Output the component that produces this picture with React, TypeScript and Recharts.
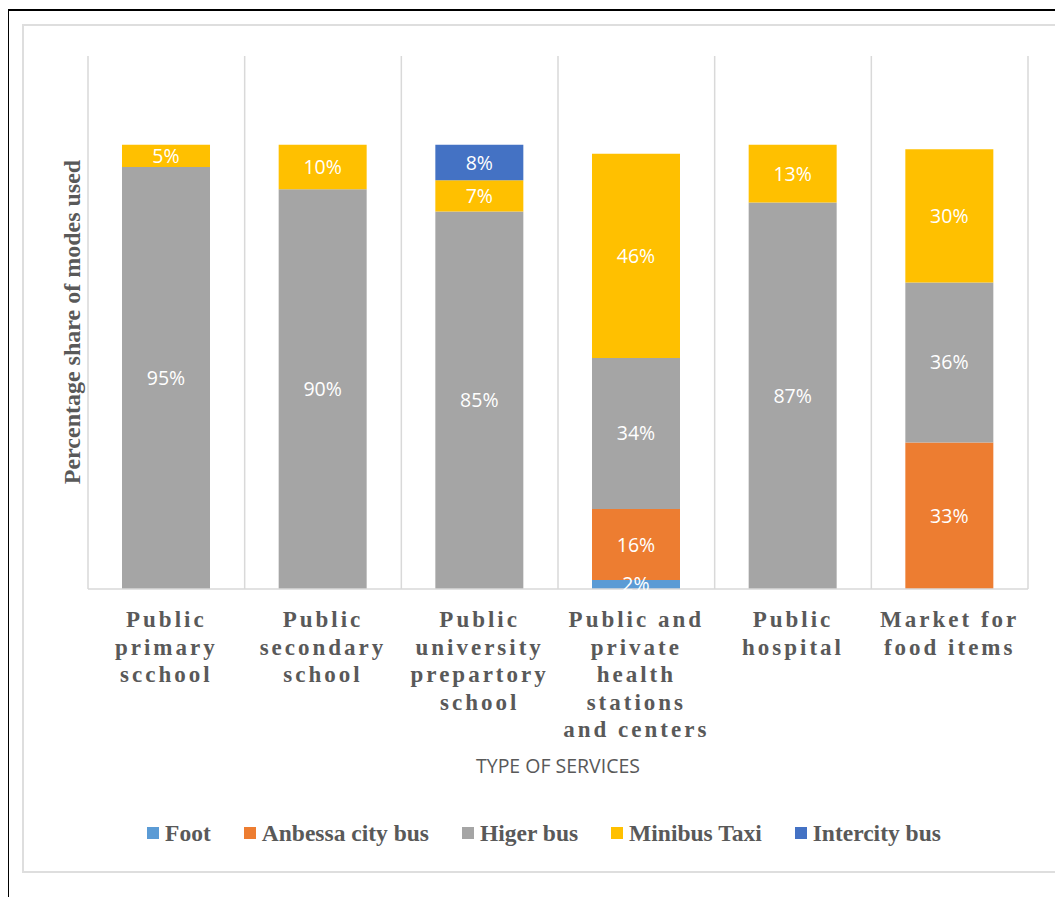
import React from "react";
import { BarChart, Bar, XAxis, YAxis, CartesianGrid, LabelList } from "recharts";

const CATEGORIES = [
  "Public\nprimary\nscchool",
  "Public\nsecondary\nschool",
  "Public\nuniversity\nprepartory\nschool",
  "Public and\nprivate\nhealth\nstations\nand centers",
  "Public\nhospital",
  "Market for\nfood items",
];

const FOOT = [0, 0, 0, 2, 0, 0];
const ANBESSA = [0, 0, 0, 16, 0, 33];
const HIGER = [95, 90, 85, 34, 87, 36];
const MINIBUS = [5, 10, 7, 46, 13, 30];
const INTERCITY = [0, 0, 8, 0, 0, 0];

const SERIES = [
  { key: "foot", name: "Foot", color: "#5B9BD5", values: FOOT },
  { key: "anbessa", name: "Anbessa city bus", color: "#ED7D31", values: ANBESSA },
  { key: "higer", name: "Higer bus", color: "#A5A5A5", values: HIGER },
  { key: "minibus", name: "Minibus Taxi", color: "#FFC000", values: MINIBUS },
  { key: "intercity", name: "Intercity bus", color: "#4472C4", values: INTERCITY },
];

const data = CATEGORIES.map((c, i) => {
  const row: Record<string, string | number> = { category: c };
  SERIES.forEach((s) => {
    row[s.key] = s.values[i];
  });
  return row;
});

const TEXT = "#595959";
const SERIF = "'Liberation Serif', 'Times New Roman', serif";
const SANS = "'Open Sans', sans-serif";

function CategoryTick(props: any) {
  const { x, payload } = props;
  const lines = String(payload.value).split("\n");
  return (
    <text
      x={x}
      y={627}
      textAnchor="middle"
      fill={TEXT}
      fontFamily={SERIF}
      fontWeight="bold"
      fontSize={23}
      letterSpacing={3}
    >
      {lines.map((l, i) => (
        <tspan key={i} x={x} y={627 + i * 27.5}>
          {l}
        </tspan>
      ))}
    </text>
  );
}

export default function App() {
  return (
    <div style={{ position: "relative", width: 1063, height: 905, margin: -8, background: "#fff", overflow: "hidden" }}>
      <div
        style={{
          position: "absolute",
          left: 7,
          top: 9,
          right: 0,
          bottom: 0,
          borderLeft: "2px solid #000",
          borderTop: "2px solid #000",
        }}
      />
      <div
        style={{
          position: "absolute",
          left: 22,
          top: 24,
          width: 1033,
          height: 845,
          border: "2px solid #DEDEDE",
        }}
      />
      <div style={{ position: "absolute", left: 0, top: 0 }}>
        <BarChart
          width={1063}
          height={905}
          data={data}
          margin={{ top: 56, right: 35, left: 88, bottom: 166 }}
          barSize={88}
        >
          <CartesianGrid
            horizontal={false}
            stroke="#D9D9D9"
            strokeWidth={1.5}
            verticalCoordinatesGenerator={({ offset }: any) =>
              CATEGORIES.map((_, i) => offset.left + (i * offset.width) / CATEGORIES.length).concat([
                offset.left + offset.width,
              ])
            }
          />
          <YAxis hide domain={[0, 120]} />
          <XAxis
            dataKey="category"
            height={150}
            interval={0}
            tickLine={false}
            axisLine={{ stroke: "#D9D9D9", strokeWidth: 1.5 }}
            tick={<CategoryTick />}
            label={{
              content: ({ viewBox }: any) => (
                <text
                  x={viewBox.x + viewBox.width / 2}
                  y={773}
                  textAnchor="middle"
                  fill={TEXT}
                  fontFamily={SANS}
                  fontSize={19.5}
                >
                  TYPE OF SERVICES
                </text>
              ),
            }}
          />
          {SERIES.map((s) => (
            <Bar key={s.key} dataKey={s.key} name={s.name} stackId="a" fill={s.color} isAnimationActive={false}>
              <LabelList
                dataKey={s.key}
                position="center"
                fill="#fff"
                fontFamily={SANS}
                fontSize={19.5}
                formatter={(v: any) => (v ? `${v}%` : "")}
              />
            </Bar>
          ))}
        </BarChart>
      </div>
      <div
        style={{
          position: "absolute",
          left: 72,
          top: 322,
          transform: "translate(-50%, -50%) rotate(-90deg)",
          whiteSpace: "nowrap",
          fontFamily: SERIF,
          fontWeight: "bold",
          fontSize: 24,
          color: TEXT,
        }}
      >
        Percentage share of modes used
      </div>
      <div
        style={{
          position: "absolute",
          left: 0,
          width: 1088,
          top: 818,
          display: "flex",
          justifyContent: "center",
          fontFamily: SERIF,
          fontWeight: "bold",
          fontSize: 23.5,
          color: TEXT,
          lineHeight: "30px",
        }}
      >
        {SERIES.map((s) => (
          <div key={s.key} style={{ display: "flex", alignItems: "center", margin: "0 16.5px" }}>
            <span style={{ width: 12, height: 12, background: s.color, marginRight: 6, display: "inline-block" }} />
            <span>{s.name}</span>
          </div>
        ))}
      </div>
    </div>
  );
}
